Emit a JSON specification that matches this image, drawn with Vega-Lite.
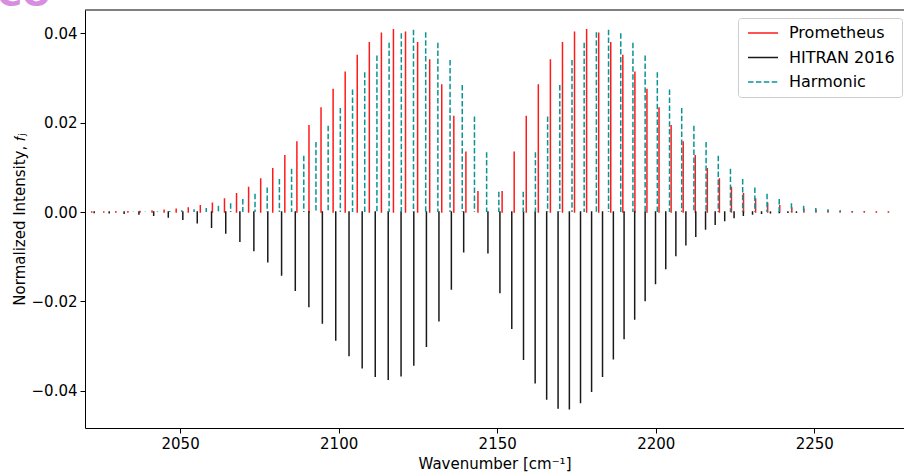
{
  "$schema": "https://vega.github.io/schema/vega-lite/v6.json",
  "width": 819,
  "height": 418,
  "autosize": {"type": "none"},
  "padding": {"left": 85, "top": 10, "right": 0, "bottom": 44},
  "title": {"text": "CO", "orient": "top", "anchor": "start", "frame": "group", "offset": -3, "dx": -88, "baseline": "top", "fontSize": 34, "fontWeight": "bold", "color": "#d88ee0", "font": "DejaVu Sans"},
  "config": {
    "font": "DejaVu Sans",
    "view": {"stroke": null},
    "axis": {"grid": false, "domainColor": "#000", "tickColor": "#000", "labelColor": "#000", "titleColor": "#000", "labelFontSize": 15, "titleFontSize": 15, "titleFontWeight": "normal", "tickSize": 5, "tickWidth": 1, "domainWidth": 1, "labelFont": "DejaVu Sans", "titleFont": "DejaVu Sans"},
    "legend": {"orient": "none", "legendX": 653, "legendY": 8, "title": null, "labelFontSize": 16, "labelColor": "#000", "labelFont": "DejaVu Sans", "padding": 7, "rowPadding": 8.5, "fillColor": "#ffffff", "strokeColor": "#cccccc", "cornerRadius": 3, "labelOffset": 28, "symbolType": "M-1,0H5", "symbolSize": 100, "symbolStrokeWidth": 1.5}
  },
  "data": {"values": [
    {"s": "Prometheus", "x": 2143.93, "v": 0.00454},
    {"s": "Prometheus", "x": 2140.13, "v": 0.0134},
    {"s": "Prometheus", "x": 2136.32, "v": 0.0214},
    {"s": "Prometheus", "x": 2132.51, "v": 0.0284},
    {"s": "Prometheus", "x": 2128.71, "v": 0.0340},
    {"s": "Prometheus", "x": 2124.90, "v": 0.0379},
    {"s": "Prometheus", "x": 2121.09, "v": 0.0402},
    {"s": "Prometheus", "x": 2117.28, "v": 0.0408},
    {"s": "Prometheus", "x": 2113.48, "v": 0.0400},
    {"s": "Prometheus", "x": 2109.67, "v": 0.0379},
    {"s": "Prometheus", "x": 2105.86, "v": 0.0350},
    {"s": "Prometheus", "x": 2102.06, "v": 0.0313},
    {"s": "Prometheus", "x": 2098.25, "v": 0.0274},
    {"s": "Prometheus", "x": 2094.44, "v": 0.0233},
    {"s": "Prometheus", "x": 2090.64, "v": 0.0193},
    {"s": "Prometheus", "x": 2086.83, "v": 0.0157},
    {"s": "Prometheus", "x": 2083.02, "v": 0.0126},
    {"s": "Prometheus", "x": 2079.21, "v": 0.0097},
    {"s": "Prometheus", "x": 2075.41, "v": 0.0074},
    {"s": "Prometheus", "x": 2071.60, "v": 0.0055},
    {"s": "Prometheus", "x": 2067.79, "v": 0.0041},
    {"s": "Prometheus", "x": 2063.99, "v": 0.0029},
    {"s": "Prometheus", "x": 2060.18, "v": 0.0020},
    {"s": "Prometheus", "x": 2056.37, "v": 0.0014},
    {"s": "Prometheus", "x": 2052.57, "v": 0.00093},
    {"s": "Prometheus", "x": 2048.76, "v": 0.00061},
    {"s": "Prometheus", "x": 2044.95, "v": 0.00039},
    {"s": "Prometheus", "x": 2041.14, "v": 0.00024},
    {"s": "Prometheus", "x": 2037.34, "v": 0.00015},
    {"s": "Prometheus", "x": 2033.53, "v": 0.00009},
    {"s": "Prometheus", "x": 2029.72, "v": 0.00005},
    {"s": "Prometheus", "x": 2025.92, "v": 0.00003},
    {"s": "Prometheus", "x": 2022.11, "v": 0.00002},
    {"s": "Prometheus", "x": 2151.55, "v": 0.00454},
    {"s": "Prometheus", "x": 2155.36, "v": 0.0134},
    {"s": "Prometheus", "x": 2159.16, "v": 0.0214},
    {"s": "Prometheus", "x": 2162.97, "v": 0.0284},
    {"s": "Prometheus", "x": 2166.78, "v": 0.0340},
    {"s": "Prometheus", "x": 2170.59, "v": 0.0379},
    {"s": "Prometheus", "x": 2174.39, "v": 0.0402},
    {"s": "Prometheus", "x": 2178.20, "v": 0.0408},
    {"s": "Prometheus", "x": 2182.01, "v": 0.0400},
    {"s": "Prometheus", "x": 2185.81, "v": 0.0379},
    {"s": "Prometheus", "x": 2189.62, "v": 0.0350},
    {"s": "Prometheus", "x": 2193.43, "v": 0.0313},
    {"s": "Prometheus", "x": 2197.23, "v": 0.0274},
    {"s": "Prometheus", "x": 2201.04, "v": 0.0233},
    {"s": "Prometheus", "x": 2204.85, "v": 0.0193},
    {"s": "Prometheus", "x": 2208.66, "v": 0.0157},
    {"s": "Prometheus", "x": 2212.46, "v": 0.0126},
    {"s": "Prometheus", "x": 2216.27, "v": 0.0097},
    {"s": "Prometheus", "x": 2220.08, "v": 0.0074},
    {"s": "Prometheus", "x": 2223.88, "v": 0.0055},
    {"s": "Prometheus", "x": 2227.69, "v": 0.0041},
    {"s": "Prometheus", "x": 2231.50, "v": 0.0029},
    {"s": "Prometheus", "x": 2235.30, "v": 0.0020},
    {"s": "Prometheus", "x": 2239.11, "v": 0.0014},
    {"s": "Prometheus", "x": 2242.92, "v": 0.00093},
    {"s": "Prometheus", "x": 2246.73, "v": 0.00061},
    {"s": "Prometheus", "x": 2250.53, "v": 0.00039},
    {"s": "Prometheus", "x": 2254.34, "v": 0.00024},
    {"s": "Prometheus", "x": 2258.15, "v": 0.00015},
    {"s": "Prometheus", "x": 2261.95, "v": 0.00009},
    {"s": "Prometheus", "x": 2265.76, "v": 0.00005},
    {"s": "Prometheus", "x": 2269.57, "v": 0.00003},
    {"s": "Prometheus", "x": 2273.37, "v": 0.00002},
    {"s": "HITRAN 2016", "x": 2139.43, "v": -0.0089},
    {"s": "HITRAN 2016", "x": 2135.55, "v": -0.0172},
    {"s": "HITRAN 2016", "x": 2131.63, "v": -0.0243},
    {"s": "HITRAN 2016", "x": 2127.68, "v": -0.0300},
    {"s": "HITRAN 2016", "x": 2123.70, "v": -0.0342},
    {"s": "HITRAN 2016", "x": 2119.68, "v": -0.0366},
    {"s": "HITRAN 2016", "x": 2115.63, "v": -0.0374},
    {"s": "HITRAN 2016", "x": 2111.54, "v": -0.0367},
    {"s": "HITRAN 2016", "x": 2107.42, "v": -0.0348},
    {"s": "HITRAN 2016", "x": 2103.27, "v": -0.0321},
    {"s": "HITRAN 2016", "x": 2099.08, "v": -0.0286},
    {"s": "HITRAN 2016", "x": 2094.86, "v": -0.0248},
    {"s": "HITRAN 2016", "x": 2090.61, "v": -0.0211},
    {"s": "HITRAN 2016", "x": 2086.32, "v": -0.0175},
    {"s": "HITRAN 2016", "x": 2082.00, "v": -0.0141},
    {"s": "HITRAN 2016", "x": 2077.65, "v": -0.0111},
    {"s": "HITRAN 2016", "x": 2073.26, "v": -0.0086},
    {"s": "HITRAN 2016", "x": 2068.85, "v": -0.0065},
    {"s": "HITRAN 2016", "x": 2064.39, "v": -0.0047},
    {"s": "HITRAN 2016", "x": 2059.91, "v": -0.0034},
    {"s": "HITRAN 2016", "x": 2055.40, "v": -0.0024},
    {"s": "HITRAN 2016", "x": 2050.85, "v": -0.0016},
    {"s": "HITRAN 2016", "x": 2046.27, "v": -0.0011},
    {"s": "HITRAN 2016", "x": 2041.66, "v": -0.0007},
    {"s": "HITRAN 2016", "x": 2037.01, "v": -0.00045},
    {"s": "HITRAN 2016", "x": 2032.34, "v": -0.00028},
    {"s": "HITRAN 2016", "x": 2027.63, "v": -0.00017},
    {"s": "HITRAN 2016", "x": 2022.90, "v": -0.0001},
    {"s": "HITRAN 2016", "x": 2147.08, "v": -0.0091},
    {"s": "HITRAN 2016", "x": 2150.86, "v": -0.0180},
    {"s": "HITRAN 2016", "x": 2154.60, "v": -0.0260},
    {"s": "HITRAN 2016", "x": 2158.30, "v": -0.0329},
    {"s": "HITRAN 2016", "x": 2161.97, "v": -0.0382},
    {"s": "HITRAN 2016", "x": 2165.60, "v": -0.0418},
    {"s": "HITRAN 2016", "x": 2169.20, "v": -0.0438},
    {"s": "HITRAN 2016", "x": 2172.76, "v": -0.0440},
    {"s": "HITRAN 2016", "x": 2176.28, "v": -0.0426},
    {"s": "HITRAN 2016", "x": 2179.77, "v": -0.0401},
    {"s": "HITRAN 2016", "x": 2183.22, "v": -0.0367},
    {"s": "HITRAN 2016", "x": 2186.64, "v": -0.0328},
    {"s": "HITRAN 2016", "x": 2190.02, "v": -0.0283},
    {"s": "HITRAN 2016", "x": 2193.36, "v": -0.0239},
    {"s": "HITRAN 2016", "x": 2196.66, "v": -0.0198},
    {"s": "HITRAN 2016", "x": 2199.93, "v": -0.0160},
    {"s": "HITRAN 2016", "x": 2203.16, "v": -0.0126},
    {"s": "HITRAN 2016", "x": 2206.35, "v": -0.0097},
    {"s": "HITRAN 2016", "x": 2209.51, "v": -0.0073},
    {"s": "HITRAN 2016", "x": 2212.63, "v": -0.0054},
    {"s": "HITRAN 2016", "x": 2215.71, "v": -0.0038},
    {"s": "HITRAN 2016", "x": 2218.75, "v": -0.0027},
    {"s": "HITRAN 2016", "x": 2221.75, "v": -0.0019},
    {"s": "HITRAN 2016", "x": 2224.71, "v": -0.0012},
    {"s": "HITRAN 2016", "x": 2227.64, "v": -0.0007},
    {"s": "HITRAN 2016", "x": 2230.53, "v": -0.00045},
    {"s": "HITRAN 2016", "x": 2233.37, "v": -0.00028},
    {"s": "HITRAN 2016", "x": 2236.18, "v": -0.00017},
    {"s": "HITRAN 2016", "x": 2238.95, "v": -0.0001},
    {"s": "HITRAN 2016", "x": 2241.68, "v": -0.00006},
    {"s": "HITRAN 2016", "x": 2244.37, "v": -0.00004},
    {"s": "Harmonic", "x": 2150.52, "v": 0.00454},
    {"s": "Harmonic", "x": 2146.67, "v": 0.0134},
    {"s": "Harmonic", "x": 2142.83, "v": 0.0214},
    {"s": "Harmonic", "x": 2138.98, "v": 0.0284},
    {"s": "Harmonic", "x": 2135.14, "v": 0.0340},
    {"s": "Harmonic", "x": 2131.29, "v": 0.0379},
    {"s": "Harmonic", "x": 2127.45, "v": 0.0402},
    {"s": "Harmonic", "x": 2123.60, "v": 0.0408},
    {"s": "Harmonic", "x": 2119.76, "v": 0.0400},
    {"s": "Harmonic", "x": 2115.91, "v": 0.0379},
    {"s": "Harmonic", "x": 2112.07, "v": 0.0350},
    {"s": "Harmonic", "x": 2108.22, "v": 0.0313},
    {"s": "Harmonic", "x": 2104.38, "v": 0.0274},
    {"s": "Harmonic", "x": 2100.53, "v": 0.0233},
    {"s": "Harmonic", "x": 2096.69, "v": 0.0193},
    {"s": "Harmonic", "x": 2092.84, "v": 0.0157},
    {"s": "Harmonic", "x": 2089.00, "v": 0.0126},
    {"s": "Harmonic", "x": 2085.15, "v": 0.0097},
    {"s": "Harmonic", "x": 2081.31, "v": 0.0074},
    {"s": "Harmonic", "x": 2077.46, "v": 0.0055},
    {"s": "Harmonic", "x": 2073.62, "v": 0.0041},
    {"s": "Harmonic", "x": 2069.77, "v": 0.0029},
    {"s": "Harmonic", "x": 2065.93, "v": 0.0020},
    {"s": "Harmonic", "x": 2062.08, "v": 0.0014},
    {"s": "Harmonic", "x": 2058.24, "v": 0.00093},
    {"s": "Harmonic", "x": 2054.39, "v": 0.00061},
    {"s": "Harmonic", "x": 2050.55, "v": 0.00039},
    {"s": "Harmonic", "x": 2046.70, "v": 0.00024},
    {"s": "Harmonic", "x": 2042.86, "v": 0.00015},
    {"s": "Harmonic", "x": 2039.01, "v": 0.00009},
    {"s": "Harmonic", "x": 2035.17, "v": 0.00005},
    {"s": "Harmonic", "x": 2031.32, "v": 0.00003},
    {"s": "Harmonic", "x": 2027.48, "v": 0.00002},
    {"s": "Harmonic", "x": 2158.21, "v": 0.00454},
    {"s": "Harmonic", "x": 2162.05, "v": 0.0134},
    {"s": "Harmonic", "x": 2165.90, "v": 0.0214},
    {"s": "Harmonic", "x": 2169.74, "v": 0.0284},
    {"s": "Harmonic", "x": 2173.59, "v": 0.0340},
    {"s": "Harmonic", "x": 2177.43, "v": 0.0379},
    {"s": "Harmonic", "x": 2181.28, "v": 0.0402},
    {"s": "Harmonic", "x": 2185.12, "v": 0.0408},
    {"s": "Harmonic", "x": 2188.97, "v": 0.0400},
    {"s": "Harmonic", "x": 2192.81, "v": 0.0379},
    {"s": "Harmonic", "x": 2196.66, "v": 0.0350},
    {"s": "Harmonic", "x": 2200.50, "v": 0.0313},
    {"s": "Harmonic", "x": 2204.35, "v": 0.0274},
    {"s": "Harmonic", "x": 2208.19, "v": 0.0233},
    {"s": "Harmonic", "x": 2212.04, "v": 0.0193},
    {"s": "Harmonic", "x": 2215.88, "v": 0.0157},
    {"s": "Harmonic", "x": 2219.73, "v": 0.0126},
    {"s": "Harmonic", "x": 2223.57, "v": 0.0097},
    {"s": "Harmonic", "x": 2227.42, "v": 0.0074},
    {"s": "Harmonic", "x": 2231.26, "v": 0.0055},
    {"s": "Harmonic", "x": 2235.11, "v": 0.0041},
    {"s": "Harmonic", "x": 2238.95, "v": 0.0029},
    {"s": "Harmonic", "x": 2242.80, "v": 0.0020},
    {"s": "Harmonic", "x": 2246.64, "v": 0.0014},
    {"s": "Harmonic", "x": 2250.49, "v": 0.00093},
    {"s": "Harmonic", "x": 2254.33, "v": 0.00061},
    {"s": "Harmonic", "x": 2258.18, "v": 0.00039},
    {"s": "Harmonic", "x": 2262.02, "v": 0.00024},
    {"s": "Harmonic", "x": 2265.87, "v": 0.00015},
    {"s": "Harmonic", "x": 2269.71, "v": 0.00009},
    {"s": "Harmonic", "x": 2273.56, "v": 0.00005},
    {"s": "Harmonic", "x": 2277.40, "v": 0.00003}
  ]},
  "layer": [
    {
      "transform": [{"filter": "datum.s !== 'Harmonic'"}],
      "mark": {"type": "rule", "strokeWidth": 1.5, "strokeCap": "square"},
      "encoding": {
        "x": {"field": "x", "type": "quantitative", "scale": {"domain": [2020, 2278.3], "nice": false, "zero": false},
              "axis": {"title": "Wavenumber [cm⁻¹]", "values": [2050, 2100, 2150, 2200, 2250], "format": "d", "labelPadding": 3, "titlePadding": 5}},
        "y": {"field": "v", "type": "quantitative", "scale": {"domain": [-0.0483, 0.0452], "nice": false, "zero": false},
              "axis": {"title": "Normalized Intensity, 𝑓ⱼ", "values": [-0.04, -0.02, 0, 0.02, 0.04], "format": ".2f", "labelPadding": 3, "titlePadding": 4}},
        "y2": {"datum": 0},
        "color": {"field": "s", "type": "nominal", "scale": {"domain": ["Prometheus", "HITRAN 2016", "Harmonic"], "range": ["#ff1a1a", "#1a1a1a", "#0a9494"]}},
        "strokeDash": {"field": "s", "type": "nominal", "scale": {"domain": ["Prometheus", "HITRAN 2016", "Harmonic"], "range": [[1, 0], [1, 0], [5.5, 2.4]]}}
      }
    },
    {
      "transform": [{"filter": "datum.s === 'Harmonic'"}],
      "mark": {"type": "rule", "strokeWidth": 1.5, "strokeCap": "butt"},
      "encoding": {
        "x": {"field": "x", "type": "quantitative"},
        "y": {"field": "v", "type": "quantitative"},
        "y2": {"datum": 0},
        "color": {"field": "s", "type": "nominal"},
        "strokeDash": {"field": "s", "type": "nominal"}
      }
    },
    {
      "data": {"values": [{"top": 0.0452}]},
      "mark": {"type": "rule", "color": "#000", "strokeWidth": 1},
      "encoding": {
        "y": {"field": "top", "type": "quantitative"}
      }
    }
  ]
}
